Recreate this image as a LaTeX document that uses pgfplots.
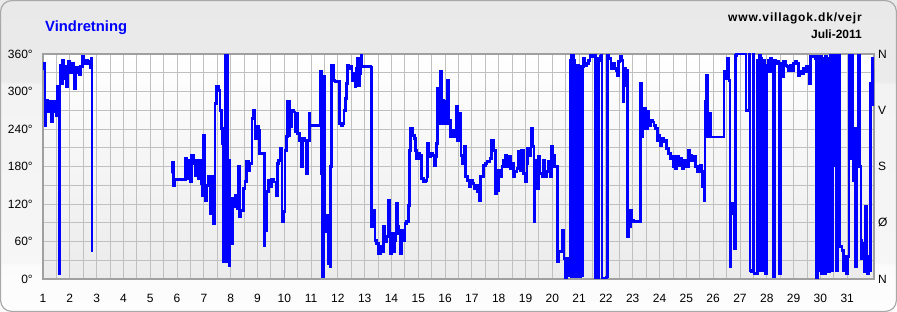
\documentclass[border=0pt]{standalone}
\usepackage{pgfplots}
\pgfplotsset{compat=1.18}
\usepackage{pgfplotstable}
\usepackage{fontspec}
\setmainfont{Liberation Sans}
\definecolor{gridc}{HTML}{C0C0C0}
\definecolor{framec}{HTML}{A0A0A0}
\definecolor{borderc}{HTML}{A8A8A8}
\definecolor{p0}{HTML}{FDFDFD}
\definecolor{p1}{HTML}{FBFBFB}
\definecolor{p2}{HTML}{F6F6F6}
\definecolor{p3}{HTML}{F3F3F3}
\definecolor{p4}{HTML}{EBEBEB}
\definecolor{p5}{HTML}{E9E9E9}
\pgfdeclareverticalshading{panel}{100bp}{color(0bp)=(p0); color(25bp)=(p0); color(32.5bp)=(p1); color(33bp)=(p2); color(61.5bp)=(p3); color(62bp)=(p4); color(75bp)=(p5); color(100bp)=(p5)}

\pgfplotstableread{
x y
1.00 345
1.06 337
1.07 246
1.11 286
1.16 281
1.20 268
1.26 284
1.30 268
1.32 252
1.36 284
1.41 268
1.45 278
1.49 262
1.51 284
1.55 308
1.58 300
1.60 9
1.63 342
1.67 330
1.70 313
1.73 350
1.78 320
1.83 340
1.88 308
1.92 330
1.95 348
2.01 330
2.07 345
2.13 336
2.17 305
2.22 338
2.28 330
2.34 327
2.41 340
2.47 356
2.53 345
2.59 350
2.65 345
2.72 348
2.75 338
2.79 353
2.82 350
2.83 43
}\segA

\pgfplotstableread{
x y
5.80 169
5.83 186
5.86 150
5.90 159
6.30 159
6.32 193
6.36 160
6.40 190
6.45 165
6.49 156
6.55 198
6.61 185
6.67 165
6.73 190
6.80 160
6.86 190
6.92 152
6.96 134
6.98 230
7.04 126
7.11 150
7.17 164
7.23 105
7.29 164
7.36 89
7.42 281
7.48 308
7.54 302
7.61 270
7.67 241
7.70 217
7.73 28
7.77 206
7.80 358
7.85 358
7.88 28
7.92 190
7.95 22
7.98 68
8.04 57
8.08 129
8.13 115
8.16 134
8.23 113
8.29 180
8.33 100
8.39 110
8.48 145
8.54 156
8.60 188
8.66 174
8.72 185
8.79 257
8.85 270
8.91 225
8.97 244
9.03 238
9.07 201
9.22 201
9.26 54
9.28 78
9.35 140
9.41 158
9.47 148
9.53 160
9.59 155
9.69 134
9.74 185
9.78 190
9.84 209
9.91 92
9.97 108
10.03 206
10.09 228
10.13 284
10.19 230
10.22 244
10.28 270
10.34 267
10.40 236
10.44 265
10.50 233
10.56 222
10.62 180
10.69 225
10.75 222
10.81 169
10.88 222
10.94 265
10.96 246
11.34 246
11.36 332
11.40 169
11.43 4
11.48 324
11.52 76
11.58 102
11.65 25
11.71 20
11.73 180
11.77 342
11.83 318
11.90 316
12.02 316
12.06 249
12.12 246
12.18 249
12.23 270
12.29 289
12.33 313
12.37 342
12.42 337
12.48 340
12.52 318
12.58 329
12.64 308
12.68 337
12.73 353
12.77 310
12.83 329
12.87 358
12.89 340
13.23 339
13.26 84
13.33 110
13.39 62
13.45 57
13.51 41
13.58 52
13.64 44
13.70 84
13.76 60
13.82 68
13.89 126
13.95 41
14.01 73
14.07 44
14.13 62
14.17 121
14.22 84
14.26 73
14.32 41
14.38 78
14.44 62
14.50 89
14.57 92
14.63 118
14.67 206
14.72 241
14.79 230
14.86 225
14.89 206
14.94 193
15.01 201
15.07 198
15.13 161
15.19 155
15.26 158
15.32 164
15.35 217
15.40 196
15.47 201
15.54 198
15.59 182
15.64 196
15.69 217
15.72 305
15.77 249
15.82 332
15.87 286
15.94 249
16.00 284
16.06 249
16.10 318
16.15 254
16.21 228
16.28 238
16.34 228
16.40 276
16.46 222
16.52 244
16.56 265
16.60 198
16.65 185
16.71 212
16.77 164
16.83 158
16.90 148
16.96 158
17.02 153
17.08 145
17.14 150
17.21 140
17.27 126
17.31 164
17.37 164
17.43 182
17.50 185
17.56 188
17.68 193
17.74 222
17.81 206
17.87 137
17.93 142
17.99 174
18.05 164
18.12 180
18.18 190
18.24 198
18.30 180
18.37 196
18.43 177
18.49 185
18.55 164
18.61 172
18.68 177
18.74 204
18.80 174
18.86 206
18.92 169
18.99 155
19.05 185
19.07 209
19.13 198
19.20 241
19.26 212
19.32 92
19.36 190
19.42 145
19.48 196
19.54 169
19.61 164
19.67 190
19.73 164
19.79 172
19.86 188
19.92 164
19.98 212
20.02 198
20.07 180
20.14 180
20.19 28
20.25 44
20.32 44
20.37 78
20.43 33
20.47 1
20.53 33
20.59 30
20.63 6
20.66 345
20.67 6
20.68 350
20.69 4
20.70 356
20.71 8
20.72 358
20.73 3
20.74 358
20.75 6
20.76 356
20.77 5
20.78 358
20.79 8
20.80 358
20.81 4
20.82 350
20.83 6
20.84 342
20.85 5
20.86 340
20.87 8
20.88 342
20.89 4
20.90 340
20.91 6
20.92 340
20.93 5
20.94 342
20.95 7
20.96 340
20.97 4
20.98 342
20.99 6
21.00 340
21.01 5
21.02 340
21.03 7
21.04 340
21.05 4
21.06 340
21.07 6
21.08 268
21.09 340
21.10 5
21.12 340
21.16 353
21.22 342
21.29 345
21.35 350
21.41 358
21.47 356
21.53 358
21.60 345
21.62 1
21.71 1
21.72 353
21.75 350
21.78 356
21.83 358
21.86 1
22.03 3
22.06 358
22.12 353
22.19 337
22.25 345
22.31 337
22.37 334
22.41 326
22.47 348
22.53 356
22.59 350
22.63 284
22.68 337
22.73 310
22.78 334
22.81 68
22.84 84
22.91 110
22.97 94
23.03 92
23.28 92
23.30 313
23.34 228
23.38 241
23.44 273
23.50 241
23.55 268
23.61 246
23.68 254
23.74 251
23.80 246
23.86 241
23.92 222
23.96 230
24.02 214
24.09 225
24.15 220
24.21 222
24.27 209
24.33 201
24.40 193
24.46 196
24.52 180
24.58 177
24.64 196
24.71 182
24.77 193
24.83 177
24.89 190
24.96 180
25.02 180
25.07 206
25.14 198
25.20 190
25.26 196
25.33 180
25.39 172
25.45 180
25.51 182
25.57 172
25.61 148
25.66 126
25.69 284
25.74 326
25.79 228
25.85 265
25.91 227
26.38 227
26.41 332
26.47 321
26.53 353
26.59 318
26.63 20
26.66 121
26.72 105
26.76 121
26.79 49
26.84 358
26.88 360
27.20 360
27.22 270
27.32 270
27.36 360
27.38 14
27.44 12
27.48 360
27.53 9
27.60 9
27.65 350
27.69 14
27.73 358
27.78 353
27.82 14
27.88 350
27.94 9
27.98 342
28.04 350
28.08 332
28.13 353
28.19 348
28.23 4
28.28 350
28.33 345
28.40 348
28.45 340
28.47 9
28.52 345
28.56 324
28.62 348
28.69 342
28.75 340
28.81 334
28.87 342
28.94 334
29.00 345
29.06 348
29.12 345
29.18 326
29.24 332
29.31 329
29.37 337
29.43 332
29.49 340
29.56 340
29.59 313
29.62 356
29.74 356
29.80 353
29.84 1
29.89 356
29.93 14
29.96 340
30.01 356
30.05 9
30.11 353
30.14 9
30.18 356
30.24 353
30.30 12
30.36 358
30.40 14
30.46 358
30.49 182
30.55 358
30.61 14
30.65 358
30.71 52
30.80 46
30.86 14
30.90 36
30.96 9
31.01 36
31.07 358
31.11 193
31.17 358
31.21 158
31.26 241
31.30 228
31.32 20
31.36 198
31.42 358
31.46 180
31.51 62
31.54 33
31.58 57
31.63 12
31.67 116
31.73 30
31.75 9
31.79 36
31.85 14
31.88 313
31.92 353
31.95 334
31.98 276
}\segB

\begin{document}
\begin{tikzpicture}
\shade[shading=panel] (-43pt,-33pt) rectangle (854pt,279pt);
\draw[draw=borderc, line width=1.2pt, rounded corners=11pt] (-42.4pt,-32.4pt) rectangle (853.4pt,278.4pt);
\begin{axis}[
  at={(0,0)}, anchor=south west,
  scale only axis, width=831pt, height=225pt,
  xmin=1, xmax=32, ymin=0, ymax=360,
  xtick={1,...,31}, minor x tick num=1,
  ytick={0,60,...,360}, minor y tick num=1,
  yticklabels={0°,60°,120°,180°,240°,300°,360°},
  /pgf/number format/assume math mode=true,
  grid=both,
  major grid style={draw=gridc, line width=0.9pt},
  minor grid style={draw=gridc, line width=0.9pt},
  major tick length=0pt, minor tick length=0pt,
  axis line style={draw=framec, line width=1.2pt},
  axis background/.style={shade, top color=white, bottom color=p4},
  tick label style={font=\fontsize{12}{14}\selectfont, text=black},
  xticklabel style={anchor=base, inner sep=0pt, yshift=-24pt},
  yticklabel style={anchor=east, inner sep=0pt, xshift=-10pt},
  clip=true,
]
\addplot[blue, line width=2.6pt, const plot] table[x=x, y=y] {\segA};
\addplot[blue, line width=2.6pt, const plot] table[x=x, y=y] {\segB};
\end{axis}
\begin{scope}[font=\fontsize{12}{14}\selectfont]
\node[anchor=west, inner sep=0pt] at (835pt,225pt) {N};
\node[anchor=west, inner sep=0pt] at (835pt,168.75pt) {V};
\node[anchor=west, inner sep=0pt] at (835pt,112.5pt) {S};
\node[anchor=west, inner sep=0pt] at (835pt,56.25pt) {Ø};
\node[anchor=west, inner sep=0pt] at (835pt,0pt) {N};
\end{scope}
\node[anchor=base west, inner sep=0pt, text=blue, font=\fontsize{14.8}{16}\selectfont\bfseries] at (2pt,247pt) {Vindretning};
\node[anchor=base east, inner sep=0pt, font=\fontsize{12}{14}\selectfont\bfseries\addfontfeature{LetterSpace=7}] at (819pt,257pt) {www.villagok.dk/vejr};
\node[anchor=base east, inner sep=0pt, font=\fontsize{12}{14}\selectfont\bfseries] at (819pt,240pt) {Juli-2011};
\end{tikzpicture}
\end{document}
